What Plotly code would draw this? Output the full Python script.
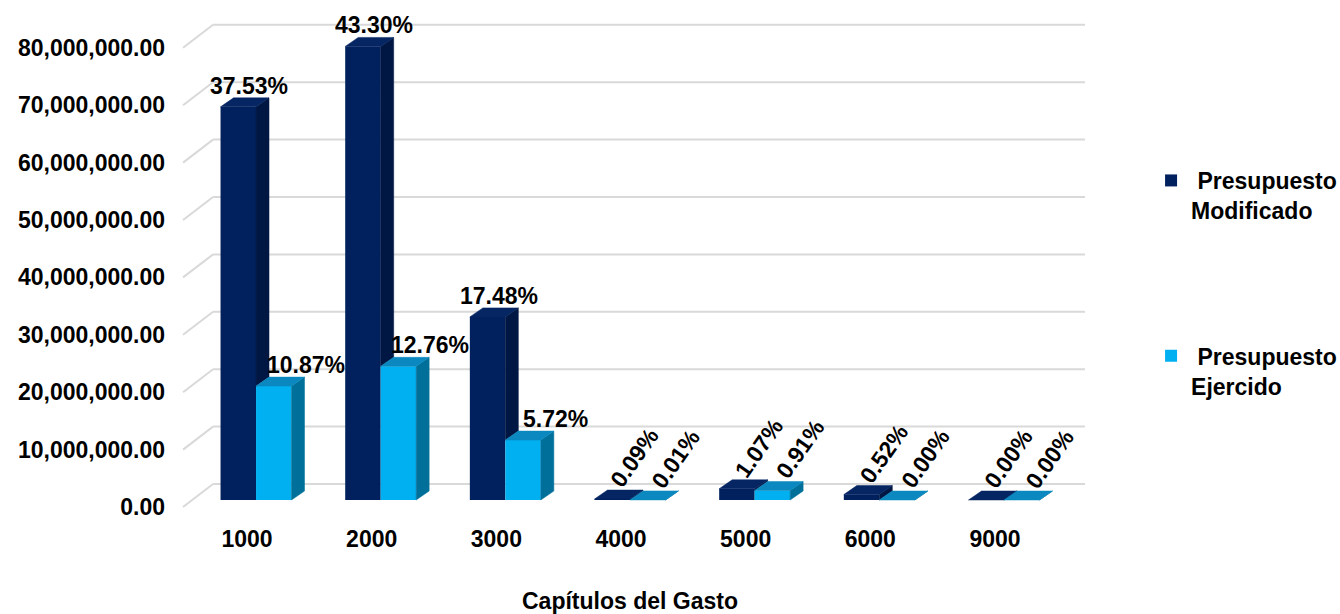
import plotly.graph_objects as go

# ---------------- data ----------------
categories = ["1000", "2000", "3000", "4000", "5000", "6000", "9000"]
modificado = [68490000, 79020000, 31900000, 164000, 1950000, 950000, 0]
ejercido = [19840000, 23290000, 10440000, 18000, 1660000, 0, 0]
pct_modificado = [37.53, 43.30, 17.48, 0.09, 1.07, 0.52, 0.00]
pct_ejercido = [10.87, 12.76, 5.72, 0.01, 0.91, 0.00, 0.00]
y_ticks = [0, 10000000, 20000000, 30000000, 40000000, 50000000, 60000000, 70000000, 80000000]

# ---------------- geometry helpers (pixel <-> data scale) ----------------
PX_PER_CAT = 124.7          # pixels per category on x
PX_PER_UNIT_Y = 57.4 / 1e7  # pixels per value unit on y
def px_x(p):
    return p / PX_PER_CAT
def px_y(p):
    return p / PX_PER_UNIT_Y

W = px_x(35.5)        # bar width
DX = px_x(13)         # 3D depth, x
DY = px_y(9)          # 3D depth, y
BACK_OFF = px_y(16)   # back wall offset
FRONT_OFF = px_y(7)   # front plane offset
X0, X1 = -0.65, 6.65
XL_FRONT = px_x(183 - 256)
XL_BACK = px_x(213 - 256)
YR = [-px_y(15), px_y(490)]

FONT = "Liberation Sans, Arial, sans-serif"
FS = 23
DARK, DARK_SIDE, DARK_TOP = "#00215e", "#001743", "#052563"
LIGHT, LIGHT_SIDE, LIGHT_TOP = "#00b0f0", "#00709a", "#0a88bf"

xs = list(range(len(categories)))
fig = go.Figure()

fig.add_trace(go.Bar(x=xs, y=modificado, width=W, offset=-W, marker=dict(color=DARK, line=dict(width=0)),
                     name="<b> Presupuesto<br>Modificado</b>", legend="legend", hoverinfo="skip"))
fig.add_trace(go.Bar(x=xs, y=ejercido, width=W, offset=0, marker=dict(color=LIGHT, line=dict(width=0)),
                     name="<b> Presupuesto<br>Ejercido</b>", legend="legend2", hoverinfo="skip"))


def faces(left_edges, tops, bottoms):
    side_x, side_y, top_x, top_y = [], [], [], []
    for a, v, lo in zip(left_edges, tops, bottoms):
        b = a + W
        side_x += [b, b, b + DX, b + DX, b, None]
        side_y += [lo, v, v + DY, lo + DY, lo, None]
        top_x += [a, b, b + DX, a + DX, a, None]
        top_y += [v, v, v + DY, v + DY, v, None]
    return side_x, side_y, top_x, top_y

dark_left = [x - W for x in xs]
light_left = [x for x in xs]
dark_lo = [min(m, e) for m, e in zip(modificado, ejercido)]
dsx, dsy, dtx, dty = faces(dark_left, modificado, dark_lo)
lsx, lsy, ltx, lty = faces(light_left, ejercido, [0] * len(xs))

for fx, fy, col in [(dsx, dsy, DARK_SIDE), (dtx, dty, DARK_TOP), (lsx, lsy, LIGHT_SIDE), (ltx, lty, LIGHT_TOP)]:
    fig.add_trace(go.Scatter(x=fx, y=fy, mode="lines", fill="toself", fillcolor=col,
                             line=dict(color=col, width=0.5), showlegend=False, hoverinfo="skip"))

# gridlines (3D wall)
shapes = []
for t in y_ticks:
    shapes.append(dict(type="line", xref="x", yref="y", x0=XL_FRONT, y0=t - FRONT_OFF, x1=XL_BACK, y1=t + BACK_OFF,
                       line=dict(color="#d9d9d9", width=2), layer="below"))
    shapes.append(dict(type="line", xref="x", yref="y", x0=XL_BACK, y0=t + BACK_OFF, x1=X1, y1=t + BACK_OFF,
                       line=dict(color="#d9d9d9", width=2), layer="below"))

# data labels
annotations = []
vmax = max(modificado)
for i in xs:
    for v, p, center, upx, rotx in [(modificado[i], pct_modificado[i], i - W / 2, 11, 22),
                                      (ejercido[i], pct_ejercido[i], i + W / 2, 32, 28)]:
        txt = f"<b>{p:.2f}%</b>"
        if v > 0.05 * vmax:
            annotations.append(dict(x=center, y=v, xref="x", yref="y", text=txt, showarrow=False,
                                    xanchor="center", yanchor="middle", xshift=upx, yshift=21,
                                    font=dict(family=FONT, size=FS, color="black")))
        else:
            annotations.append(dict(x=center, y=v, xref="x", yref="y", text=txt, showarrow=False,
                                    xanchor="center", yanchor="middle", xshift=rotx, yshift=41, textangle=-55,
                                    font=dict(family=FONT, size=FS, color="black")))

fig.update_layout(
    width=1340, height=614,
    margin=dict(l=175, r=255, t=10, b=99, autoexpand=False),
    paper_bgcolor="white", plot_bgcolor="white",
    barmode="overlay",
    shapes=shapes, annotations=annotations,
    font=dict(family=FONT, color="black"),
    xaxis=dict(range=[X0, X1], showgrid=False, zeroline=False, showline=False, automargin=False,
               tickvals=[x - px_x(9) for x in xs], ticktext=[f"<b>{c}</b>" for c in categories],
               tickfont=dict(family=FONT, size=FS, color="black"), ticklabelstandoff=8,
               title=dict(text="<b>Capítulos del Gasto</b>", font=dict(family=FONT, size=FS, color="black"), standoff=44)),
    yaxis=dict(range=YR, showgrid=False, zeroline=False, showline=False, automargin=False,
               tickvals=[t - FRONT_OFF for t in y_ticks], ticktext=[f"<b>{t:,.2f}</b>" for t in y_ticks],
               tickfont=dict(family=FONT, size=FS, color="black"), ticklabelstandoff=9),
    legend=dict(x=1.0726, y=0.705, xanchor="left", yanchor="top", valign="top",
                font=dict(family=FONT, size=FS, color="black"), bgcolor="rgba(0,0,0,0)"),
    legend2=dict(x=1.0726, y=0.358, xanchor="left", yanchor="top", valign="top",
                 font=dict(family=FONT, size=FS, color="black"), bgcolor="rgba(0,0,0,0)"),
)

fig.write_html("out.html", config={"displayModeBar": False},
               post_script="document.body.style.margin='0';document.body.style.overflow='hidden';")
